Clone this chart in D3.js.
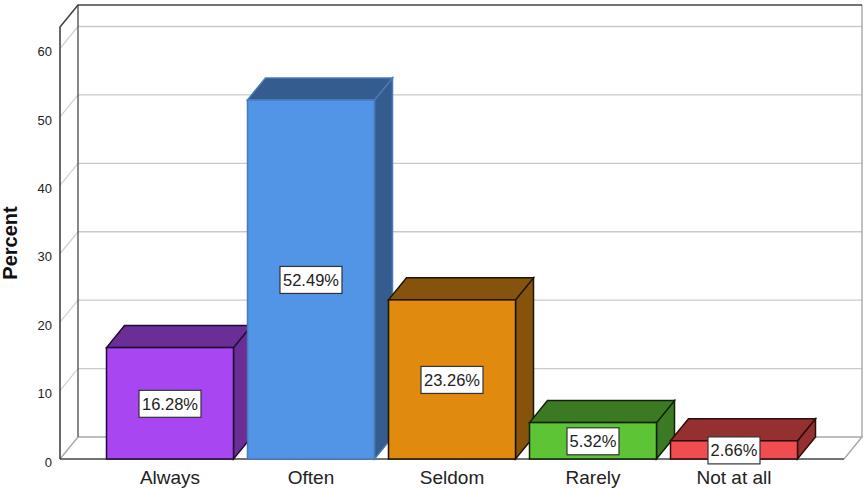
<!DOCTYPE html>
<html><head><meta charset="utf-8">
<script src="https://cdn.jsdelivr.net/npm/d3@7/dist/d3.min.js"></script>
<style>html,body{margin:0;padding:0;background:#fff;overflow:hidden}svg{display:block}text{font-family:"Liberation Sans",Arial,sans-serif}</style>
</head><body><svg id="c" width="863" height="488"></svg>
<script>
const categories = ["Always","Often","Seldom","Rarely","Not at all"];
const percents = [16.28,52.49,23.26,5.32,2.66];
const labels = ["16.28%","52.49%","23.26%","5.32%","2.66%"];
const frontColors = ["#a846f2","#5294e5","#e08a0e","#5dc435","#ef4d4f"];
const sideColors = ["#6b2d96","#345c8f","#85530b","#3b7a22","#943030"];
const edgeColors = ["#1f0c30","#4a7ab8","#1f1303","#10200a","#2e0c0c"];
const yTicks = [0,10,20,30,40,50,60];

const dx=18,dy=-22;
const svg=d3.select("#c");
const x=d3.scaleBand().domain(categories).range([99.5,804.5]).paddingInner(14/141).paddingOuter(7/141);
const y=d3.scaleLinear().domain([0,60]).range([459,48.5]);
const topFront=27, rightFront=844;

const grid="#c9c9c9", axisCol="#444";
const g=svg.append("g");
yTicks.forEach(t=>{
  if(t===0) return;
  g.append("line").attr("x1",60).attr("y1",y(t)).attr("x2",60+dx).attr("y2",y(t)+dy).attr("stroke","#d0d0d0").attr("stroke-width",1.2);
  g.append("line").attr("x1",60+dx).attr("y1",y(t)+dy).attr("x2",rightFront+dx).attr("y2",y(t)+dy).attr("stroke",grid).attr("stroke-width",1.4);
});
g.append("path").attr("d",`M60,${y(0)}L${60+dx},${y(0)+dy}H${rightFront+dx}L${rightFront},${y(0)}`).attr("fill","none").attr("stroke","#a8a8a8").attr("stroke-width",1.4);
g.append("line").attr("x1",rightFront+dx).attr("x2",rightFront+dx).attr("y1",topFront+dy).attr("y2",y(0)+dy).attr("stroke","#a8a8a8").attr("stroke-width",1.4);
g.append("path").attr("d",`M${60+dx},${y(0)+dy}V${topFront+dy}`).attr("fill","none").attr("stroke","#555").attr("stroke-width",1.4);
g.append("path").attr("d",`M60,${y(0)}V${topFront}L${60+dx},${topFront+dy}H${rightFront+dx}`).attr("fill","none").attr("stroke",axisCol).attr("stroke-width",1.6);
g.append("line").attr("x1",60).attr("x2",rightFront).attr("y1",y(0)).attr("y2",y(0)).attr("stroke",axisCol).attr("stroke-width",1.6);

const ya=svg.append("g").attr("transform","translate(60,3)").call(d3.axisLeft(y).tickValues(yTicks).tickSize(0).tickPadding(8));
ya.select(".domain").remove();
ya.selectAll("text").attr("font-size",13).attr("fill","#222").style("font-family",'"Liberation Sans",Arial,sans-serif');
svg.append("text").attr("transform","translate(17,243) rotate(-90)").attr("text-anchor","middle").attr("font-size",20).attr("font-weight","bold").attr("fill","#111").text("Percent");

const xa=svg.append("g").attr("transform","translate(0,459)").call(d3.axisBottom(x).tickSize(0).tickPadding(6));
xa.select(".domain").remove();
xa.selectAll("text").attr("font-size",19).attr("dy","1em").attr("fill","#222").style("font-family",'"Liberation Sans",Arial,sans-serif');

const bars=svg.append("g").selectAll("g").data(percents).join("g");
bars.each(function(v,i){
  const b=d3.select(this),c=categories[i];
  const l=x(c),r=l+x.bandwidth(),t=y(v),b0=y(0);
  const e=edgeColors[i];
  b.append("path").attr("d",`M${r},${b0}V${t}L${r+dx},${t+dy}V${b0+dy}Z`).attr("fill",sideColors[i]).attr("stroke",e).attr("stroke-width",1.5);
  b.append("path").attr("d",`M${l},${t}L${l+dx},${t+dy}H${r+dx}L${r},${t}Z`).attr("fill",sideColors[i]).attr("stroke",e).attr("stroke-width",1.5);
  b.append("rect").attr("x",l).attr("y",t).attr("width",r-l).attr("height",b0-t).attr("fill",frontColors[i]).attr("stroke",e).attr("stroke-width",1.5);
});
const lab=svg.append("g").selectAll("g").data(percents).join("g");
lab.each(function(v,i){
  const c=categories[i],cx=x(c)+x.bandwidth()/2;
  const cy=(y(v)+y(0))/2+0.5;
  const gg=d3.select(this);
  const w=i<3?62:52,h=27;
  gg.append("rect").attr("x",cx-w/2).attr("y",cy-h/2).attr("width",w).attr("height",h).attr("fill","#fff").attr("stroke","#333").attr("stroke-width",1.2);
  gg.append("text").attr("x",cx).attr("y",cy+6).attr("text-anchor","middle").attr("font-size",16.5).attr("fill","#222").text(labels[i]);
});
</script></body></html>
